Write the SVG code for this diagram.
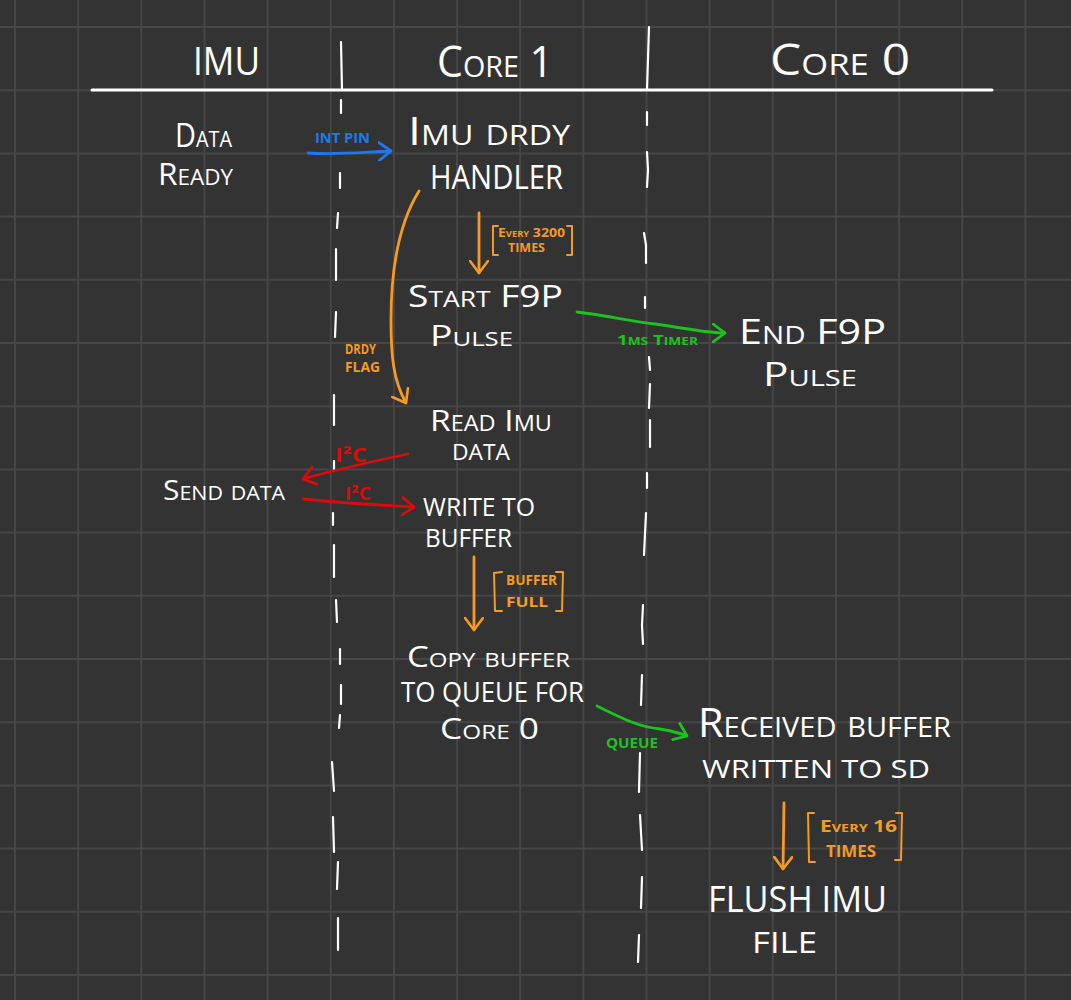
<svg xmlns="http://www.w3.org/2000/svg" width="1071" height="1000" viewBox="0 0 1071 1000">
<style>
.t{font-family:"Open Sans","Liberation Sans",sans-serif;fill:#ffffff;font-variant:small-caps;font-weight:400}
.s{font-family:"Open Sans","Liberation Sans",sans-serif;font-weight:700;font-variant:small-caps}
.o{fill:#f59a23}.g{fill:#1ec21e}.r{fill:#d80c0c}.b{fill:#1e78f0}
.lane{stroke:#ffffff;stroke-width:2.2;fill:none;stroke-linecap:round}
.c{fill:none;stroke-width:2.8;stroke-linecap:round;stroke-linejoin:round}
.br{fill:none;stroke:#f59a23;stroke-width:2;stroke-linecap:round;stroke-linejoin:round}
</style>
<defs>
<marker id="ah-o" viewBox="0 0 14 20" refX="13" refY="10" markerWidth="14" markerHeight="20" markerUnits="userSpaceOnUse" orient="auto"><path d="M1,1 L13,10 L1,19" fill="none" stroke="#f59a23" stroke-width="2.6" stroke-linecap="round" stroke-linejoin="round"/></marker>
<marker id="ah-g" viewBox="0 0 14 20" refX="13" refY="10" markerWidth="14" markerHeight="20" markerUnits="userSpaceOnUse" orient="auto"><path d="M1,1 L13,10 L1,19" fill="none" stroke="#1ec21e" stroke-width="2.8" stroke-linecap="round" stroke-linejoin="round"/></marker>
<marker id="ah-r" viewBox="0 0 14 20" refX="13" refY="10" markerWidth="14" markerHeight="20" markerUnits="userSpaceOnUse" orient="auto"><path d="M1,1 L13,10 L1,19" fill="none" stroke="#d80c0c" stroke-width="2.8" stroke-linecap="round" stroke-linejoin="round"/></marker>
<marker id="ah-b" viewBox="0 0 14 20" refX="13" refY="10" markerWidth="14" markerHeight="20" markerUnits="userSpaceOnUse" orient="auto"><path d="M1,1 L13,10 L1,19" fill="none" stroke="#1e78f0" stroke-width="2.8" stroke-linecap="round" stroke-linejoin="round"/></marker>
</defs>
<rect x="0" y="0" width="1071" height="1000" fill="#333333"/>
<path id="grid" fill="none" stroke="#464646" stroke-width="2" d="M15,0V1000M78.15,0V1000M141.3,0V1000M204.45,0V1000M267.6,0V1000M330.75,0V1000M393.9,0V1000M457.05,0V1000M520.2,0V1000M583.35,0V1000M646.5,0V1000M709.65,0V1000M772.8,0V1000M835.95,0V1000M899.1,0V1000M962.25,0V1000M1025.4,0V1000M0,27H1071M0,90.2H1071M0,153.4H1071M0,216.6H1071M0,279.8H1071M0,343H1071M0,406.2H1071M0,469.4H1071M0,532.6H1071M0,595.8H1071M0,659H1071M0,722.2H1071M0,785.4H1071M0,848.6H1071M0,911.8H1071M0,975H1071"/>
<g id="lanes">
<path d="M92,90 L992,90" stroke="#ffffff" stroke-width="3" fill="none" stroke-linecap="round"/>
<path class="lane" d="M341,42 L342,90 M341,100 L341,113 M340,173 L340,188 M338,213 L337,228 M336,249 L336,280 M336,312 L335,337 M334,395 L334,425 M334,461 L334,470 M333,513 L333,525 M334,545 L334,577 M336,600 L337,622 M340,649 L340,664 M341,685 L341,704 M340,715 L339,728 M332,762 L334,791 M333,817 L334,852 M338,862 L337,889 M338,918 L338,950"/>
<path class="lane" d="M649,27 L647,90 M647,112 L647,125 M647,152 L648,170 L647,187 M644,233 L646,245 L646,263 M645,297 L645,308 M649,357 L650,370 M650,384 L649,408 M650,420 L650,447 M647,473 L647,488 M646,513 L644,555 M643,605 L642,625 L643,644 M642,675 L641,705 M640,753 L639,792 M640,815 L642,850 M642,877 L641,908 M639,935 L638,962"/>
</g>
<g id="headers">
<text class="t" x="193" y="75" font-size="39" textLength="67" lengthAdjust="spacingAndGlyphs">IMU</text>
<text class="t" x="437" y="77" font-size="43" textLength="116" lengthAdjust="spacingAndGlyphs">Core 1</text>
<text class="t" x="770" y="75" font-size="43" textLength="140" lengthAdjust="spacingAndGlyphs">Core 0</text>
</g>
<g id="node-data-ready">
<text class="t" x="175" y="147" font-size="32" textLength="57" lengthAdjust="spacingAndGlyphs">Data</text>
<text class="t" x="158" y="185" font-size="31" textLength="75" lengthAdjust="spacingAndGlyphs">Ready</text>
</g>
<g id="node-drdy-handler">
<text class="t" x="408" y="145" font-size="39" textLength="162" lengthAdjust="spacingAndGlyphs">Imu drdy</text>
<text class="t" x="430" y="189" font-size="33" textLength="133" lengthAdjust="spacingAndGlyphs">HANDLER</text>
</g>
<g id="node-start-f9p">
<text class="t" x="408" y="307" font-size="31" textLength="155" lengthAdjust="spacingAndGlyphs">Start F9P</text>
<text class="t" x="430" y="346" font-size="29" textLength="83" lengthAdjust="spacingAndGlyphs">Pulse</text>
</g>
<g id="node-end-f9p">
<text class="t" x="739" y="344" font-size="35" textLength="147" lengthAdjust="spacingAndGlyphs">End F9P</text>
<text class="t" x="763" y="386" font-size="32" textLength="94" lengthAdjust="spacingAndGlyphs">Pulse</text>
</g>
<g id="node-read-imu">
<text class="t" x="430" y="431" font-size="30" textLength="122" lengthAdjust="spacingAndGlyphs">Read Imu</text>
<text class="t" x="452" y="460" font-size="21" textLength="58" lengthAdjust="spacingAndGlyphs">DATA</text>
</g>
<g id="node-send-data">
<text class="t" x="163" y="500" font-size="28" textLength="122" lengthAdjust="spacingAndGlyphs">Send data</text>
</g>
<g id="node-write-buffer">
<text class="t" x="423" y="516" font-size="25" textLength="112" lengthAdjust="spacingAndGlyphs">WRITE TO</text>
<text class="t" x="425" y="547" font-size="25" textLength="87" lengthAdjust="spacingAndGlyphs">BUFFER</text>
</g>
<g id="node-copy-buffer">
<text class="t" x="407" y="667" font-size="29" textLength="163" lengthAdjust="spacingAndGlyphs">Copy buffer</text>
<text class="t" x="401" y="702" font-size="27" textLength="183" lengthAdjust="spacingAndGlyphs">TO QUEUE FOR</text>
<text class="t" x="440" y="739" font-size="29" textLength="99" lengthAdjust="spacingAndGlyphs">Core 0</text>
</g>
<g id="node-received">
<text class="t" x="698" y="737" font-size="40" textLength="253" lengthAdjust="spacingAndGlyphs">Received buffer</text>
<text class="t" x="702" y="778" font-size="26" textLength="228" lengthAdjust="spacingAndGlyphs">WRITTEN TO SD</text>
</g>
<g id="node-flush">
<text class="t" x="708" y="912" font-size="37" textLength="179" lengthAdjust="spacingAndGlyphs">FLUSH IMU</text>
<text class="t" x="752" y="953" font-size="30" textLength="65" lengthAdjust="spacingAndGlyphs">FILE</text>
</g>
<g id="connectors">
<path class="c" stroke="#1e78f0" marker-end="url(#ah-b)" d="M308,153 C335,155 365,152 391,151"/>
<text class="s b" x="315" y="143" font-size="14" textLength="55" lengthAdjust="spacingAndGlyphs">INT PIN</text>
<path class="c" stroke="#f59a23" marker-end="url(#ah-o)" d="M479,213 L479,273"/>
<path class="br" d="M498,226 L493,226 L493,255 L498,255 M567,226 L572,226 L572,255 L567,255"/>
<text class="s o" x="498" y="237" font-size="12" textLength="67" lengthAdjust="spacingAndGlyphs">Every 3200</text>
<text class="s o" x="508" y="252" font-size="12" textLength="37" lengthAdjust="spacingAndGlyphs">TIMES</text>
<path class="c" stroke="#f59a23" marker-end="url(#ah-o)" d="M419,191 C398,225 391,270 391,320 C391,355 393,380 406,403"/>
<text class="s o" x="345" y="354" font-size="14" textLength="31" lengthAdjust="spacingAndGlyphs">DRDY</text>
<text class="s o" x="345" y="372" font-size="14" textLength="35" lengthAdjust="spacingAndGlyphs">FLAG</text>
<path class="c" stroke="#1ec21e" marker-end="url(#ah-g)" d="M577,312 C610,316 635,322 655,324 C685,328 705,333 725,333"/>
<text class="s g" x="617" y="345" font-size="15" textLength="81" lengthAdjust="spacingAndGlyphs">1ms Timer</text>
<path class="c" stroke="#d80c0c" marker-end="url(#ah-r)" d="M408,454 C370,462 335,470 303,479"/>
<text class="s r" x="335" y="462" font-size="19" textLength="32" lengthAdjust="spacingAndGlyphs">I²C</text>
<path class="c" stroke="#d80c0c" marker-end="url(#ah-r)" d="M303,499 C340,503 380,505 414,507"/>
<text class="s r" x="345" y="500" font-size="18" textLength="26" lengthAdjust="spacingAndGlyphs">I²C</text>
<path class="c" stroke="#f59a23" marker-end="url(#ah-o)" d="M474,557 L474,630"/>
<path class="br" d="M502,572 L494,573 L495,611 L502,611 M556,572 L563,572 L562,611 L556,611"/>
<text class="s o" x="506" y="585" font-size="15" textLength="51" lengthAdjust="spacingAndGlyphs">BUFFER</text>
<text class="s o" x="506" y="607" font-size="15" textLength="42" lengthAdjust="spacingAndGlyphs">FULL</text>
<path class="c" stroke="#1ec21e" marker-end="url(#ah-g)" d="M597,706 C625,720 640,727 660,729 C672,731 680,733 687,736"/>
<text class="s g" x="606" y="748" font-size="15" textLength="52" lengthAdjust="spacingAndGlyphs">QUEUE</text>
<path class="c" stroke="#f59a23" marker-end="url(#ah-o)" d="M784,803 L783,869"/>
<path class="br" d="M814,813 L808,813 L809,862 L815,862 M896,813 L902,813 L901,860 L895,860"/>
<text class="s o" x="820" y="832" font-size="16" textLength="77" lengthAdjust="spacingAndGlyphs">Every 16</text>
<text class="s o" x="826" y="857" font-size="16" textLength="50" lengthAdjust="spacingAndGlyphs">TIMES</text>
</g>
</svg>
